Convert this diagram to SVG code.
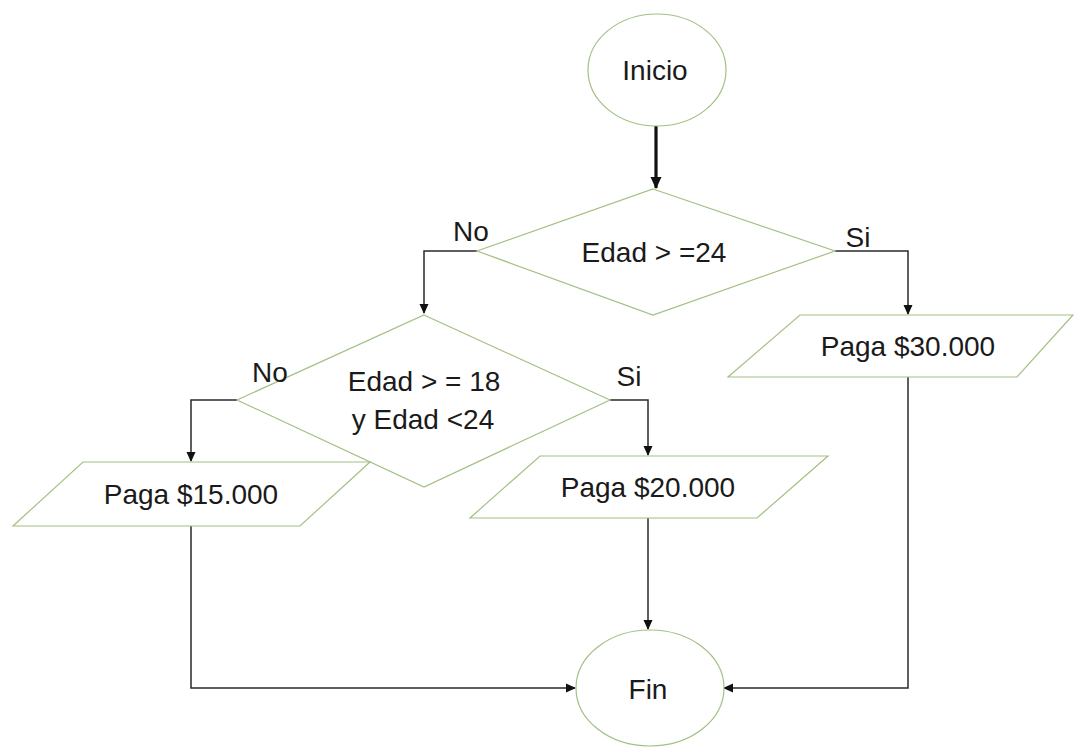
<svg xmlns="http://www.w3.org/2000/svg" width="1076" height="747" viewBox="0 0 1076 747">
<style>
.shape{fill:#ffffff;stroke:#a3c084;stroke-width:1.2}
.t{font-family:"Liberation Sans",Arial,sans-serif;font-size:28px;fill:#1a1a1a;text-anchor:middle}
.c{fill:none;stroke:#2a2a2a;stroke-width:1.5}
</style>
<defs>
<marker id="ah" markerWidth="10" markerHeight="10" refX="9" refY="5" orient="auto" markerUnits="userSpaceOnUse">
<path d="M0,0.5 L10,5 L0,9.5 Z" fill="#111"/>
</marker>
<marker id="ahb" markerWidth="12" markerHeight="12" refX="11" refY="6" orient="auto" markerUnits="userSpaceOnUse">
<path d="M0,0.5 L12,6 L0,11.5 Z" fill="#111"/>
</marker>
</defs>
<rect width="1076" height="747" fill="#ffffff"/>
<g id="connectors">
<path class="c" d="M656,126 L656,188" style="stroke-width:3.2;stroke:#111" marker-end="url(#ahb)"/>
<path class="c" d="M477,251 L424,251 L424,313" marker-end="url(#ah)"/>
<path class="c" d="M835,251 L908,251 L908,314" marker-end="url(#ah)"/>
<path class="c" d="M237,400 L191,400 L191,461" marker-end="url(#ah)"/>
<path class="c" d="M610,400 L648,400 L648,455" marker-end="url(#ah)"/>
<path class="c" d="M191,526 L191,688 L575,688" marker-end="url(#ah)"/>
<path class="c" d="M648,518 L648,629" marker-end="url(#ah)"/>
<path class="c" d="M908,377 L908,688 L724,688" marker-end="url(#ah)"/>
</g>
<g id="inicio">
<ellipse class="shape" cx="657" cy="70" rx="69" ry="56"/>
<text class="t" x="655" y="80">Inicio</text>
</g>
<g id="dec1">
<polygon class="shape" points="653,189 835,251 653,315 477,251"/>
<text class="t" x="654" y="262">Edad &gt; =24</text>
</g>
<g id="dec2">
<polygon class="shape" points="424,315 610,400 424,487 237,400"/>
<text class="t" x="424" y="391">Edad &gt; = 18</text>
<text class="t" x="423" y="429">y Edad &lt;24</text>
</g>
<g id="pay15">
<polygon class="shape" points="83,462 370,462 300,526 13,526"/>
<text class="t" x="191" y="504">Paga $15.000</text>
</g>
<g id="pay20">
<polygon class="shape" points="540,456 828,456 757,518 470,518"/>
<text class="t" x="648" y="497">Paga $20.000</text>
</g>
<g id="pay30">
<polygon class="shape" points="800,315 1073,315 1017,377 728,377"/>
<text class="t" x="908" y="356">Paga $30.000</text>
</g>
<g id="fin">
<ellipse class="shape" cx="650" cy="688" rx="74" ry="58"/>
<text class="t" x="648" y="699">Fin</text>
</g>
<g id="labels">
<text class="t" x="471" y="241">No</text>
<text class="t" x="858" y="247">Si</text>
<text class="t" x="270" y="382">No</text>
<text class="t" x="629" y="386">Si</text>
</g>
</svg>
